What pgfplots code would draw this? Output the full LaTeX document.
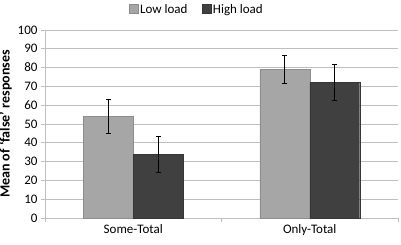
\documentclass[border=0pt]{standalone}
\usepackage{pgfplots}
\pgfplotsset{compat=1.18}
\usepackage{fontspec}
\setmainfont{Carlito}
\definecolor{lowc}{HTML}{A6A6A6}
\definecolor{highc}{HTML}{404040}
\definecolor{gridc}{HTML}{BFBFBF}
\begin{document}
\begin{tikzpicture}
\useasboundingbox (-45pt,-26pt) rectangle (356pt,218pt);
\begin{axis}[
  at={(0pt,0pt)}, anchor=south west,
  scale only axis, width=353pt, height=188pt,
  ybar=0pt, bar width=0.283,
  xmin=-0.5, xmax=1.5, ymin=0, ymax=100,
  ytick={0,10,...,100},
  xtick={-0.5,0.5,1.5}, xticklabels={},
  extra x ticks={0,1}, extra x tick labels={Some-Total,Only-Total},
  extra x tick style={major tick length=0pt, grid=none, tick label style={yshift=-3pt}},
  ymajorgrids, grid style={gridc, line width=0.8pt},
  axis x line*=bottom, axis y line*=left,
  axis line style={gridc, line width=0.8pt},
  tick style={gridc, line width=0.8pt},
  major tick length=4pt, tick align=outside,
  /pgf/number format/assume math mode=true,
  tick label style={font=\fontsize{13}{15}\selectfont, text=black},
  ylabel={\textbf{Mean of `false' responses}},
  ylabel style={font=\fontsize{14}{16}\selectfont, yshift=-1pt},
  legend style={at={(0.43,1.16)}, anchor=north, draw=none, fill=none,
    legend columns=2, font=\fontsize{13}{15}\selectfont,
    /tikz/every even column/.append style={column sep=12pt}},
  legend image code/.code={\fill[#1] (0pt,-4pt) rectangle (9pt,5pt);},
  error bars/error bar style={black, line width=0.6pt},
  error bars/error mark options={rotate=90, mark size=2.5pt, black, line width=0.6pt},
]
\addplot[fill=lowc, draw=lowc!85!black, error bars/.cd, y dir=both, y explicit]
  coordinates {(0,54) +- (0,9) (1,79) +- (0,7.5)};
\addplot[fill=highc, draw=highc!85!black, error bars/.cd, y dir=both, y explicit]
  coordinates {(0,34) +- (0,9.5) (1,72) +- (0,9.5)};
\legend{Low load, High load}
\end{axis}
\end{tikzpicture}
\end{document}
